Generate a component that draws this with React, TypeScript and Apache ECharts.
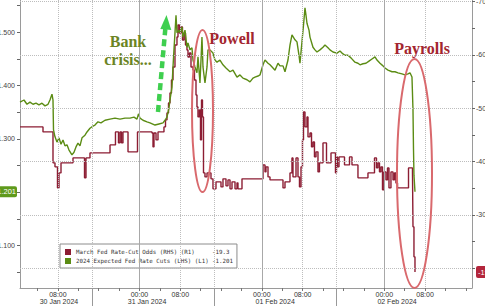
import React, { useEffect, useRef } from "react";
import * as echarts from "echarts";

// x values: hours since 30 Jan 2024 00:00
const greenHours = [0.57,1.35,1.94,2.53,3.12,3.71,4.29,4.88,5.47,6.06,6.45,6.84,7.04,7.14,7.43,7.82,8.22,8.61,9.0,9.39,9.78,10.18,10.76,11.16,11.55,11.94,12.33,12.73,13.31,13.71,14.29,14.88,15.27,15.86,16.45,17.24,18.22,19.2,20.18,21.16,22.14,22.92,23.51,23.8,24.1,24.69,25.47,26.06,27.04,27.82,28.61,29.0,29.39,29.78,29.98,30.37,30.57,30.76,30.96,31.16,31.35,31.75,31.94,32.33,32.53,32.92,33.31,33.51,33.9,34.29,34.49,34.88,35.27,35.47,35.86,36.06,36.25,36.45,36.84,37.24,37.43,37.82,38.41,38.8,39.2,39.78,40.37,40.96,41.75,42.33,43.12,43.71,44.29,45.08,45.67,46.25,46.65,47.24,47.63,48.22,48.61,49.2,49.59,50.18,50.57,51.16,51.55,52.14,52.53,53.12,53.51,53.9,54.49,54.88,55.27,55.47,55.86,56.25,56.45,56.65,56.84,57.24,57.43,58.02,58.41,58.8,59.39,59.98,60.37,60.96,61.35,61.94,62.73,63.31,63.71,64.29,64.88,65.47,66.25,66.84,67.24,67.82,68.41,69.0,69.59,70.18,70.57,71.16,71.75,72.14,72.73,73.51,74.1,74.69,75.47,76.06,76.65,77.04,77.43,77.63,77.73,77.82,78.02];
const greenValues = [-1.369,-1.373,-1.365,-1.369,-1.365,-1.367,-1.364,-1.367,-1.362,-1.365,-1.373,-1.384,-1.373,-1.317,-1.304,-1.294,-1.302,-1.29,-1.298,-1.287,-1.289,-1.279,-1.27,-1.275,-1.285,-1.292,-1.287,-1.302,-1.307,-1.313,-1.32,-1.324,-1.326,-1.332,-1.33,-1.335,-1.337,-1.339,-1.337,-1.339,-1.339,-1.341,-1.337,-1.347,-1.339,-1.335,-1.332,-1.33,-1.326,-1.328,-1.33,-1.335,-1.341,-1.358,-1.373,-1.397,-1.435,-1.467,-1.499,-1.532,-1.499,-1.504,-1.499,-1.51,-1.491,-1.504,-1.472,-1.48,-1.467,-1.471,-1.448,-1.435,-1.424,-1.454,-1.405,-1.448,-1.491,-1.435,-1.405,-1.435,-1.467,-1.467,-1.461,-1.448,-1.444,-1.448,-1.439,-1.433,-1.426,-1.429,-1.416,-1.42,-1.414,-1.411,-1.407,-1.414,-1.416,-1.418,-1.42,-1.439,-1.448,-1.442,-1.439,-1.433,-1.429,-1.442,-1.437,-1.437,-1.426,-1.448,-1.476,-1.495,-1.486,-1.482,-1.457,-1.442,-1.482,-1.523,-1.546,-1.532,-1.517,-1.504,-1.491,-1.472,-1.467,-1.463,-1.467,-1.472,-1.476,-1.471,-1.467,-1.463,-1.461,-1.465,-1.461,-1.457,-1.457,-1.452,-1.444,-1.442,-1.439,-1.441,-1.442,-1.446,-1.45,-1.454,-1.448,-1.442,-1.437,-1.433,-1.429,-1.426,-1.426,-1.424,-1.422,-1.42,-1.422,-1.424,-1.416,-1.354,-1.28,-1.232,-1.201];

const redHours = [0.57,5.08,7.04,7.43,7.92,8.22,8.61,10.96,13.22,13.51,14.29,18.22,19.29,19.88,20.18,20.47,20.76,21.75,23.61,26.45,26.65,26.84,27.24,27.63,28.8,29.1,29.39,29.69,29.98,30.27,30.57,30.96,31.35,31.55,31.84,32.14,32.43,32.73,33.02,33.31,33.51,33.8,34.1,34.49,34.78,35.08,35.27,35.47,35.76,35.96,36.16,36.35,36.55,36.84,37.24,38.02,38.41,39.0,39.98,40.37,40.96,41.35,41.75,42.14,42.73,43.12,43.31,44.1,48.22,48.61,48.8,49.2,49.59,52.14,52.53,53.51,53.9,54.1,54.69,55.08,55.37,55.67,55.96,56.16,56.45,56.84,57.04,57.43,57.73,58.02,58.31,58.61,59.0,59.29,59.98,60.67,61.55,62.43,62.63,62.82,63.12,64.2,65.18,65.67,66.84,68.8,70.08,70.47,70.76,71.06,71.35,71.65,71.94,72.33,72.63,72.92,73.31,73.71,74.0,74.29,74.59,76.75,77.53,77.63,77.82,78.02];
const redValues = [-46.5,-45.56,-39.76,-39.01,-35.07,-37.88,-39.76,-40.69,-36.95,-40.69,-41.63,-43.13,-45.56,-43.5,-45.56,-43.5,-45.56,-41.82,-45.56,-45.37,-42.75,-45.37,-44.06,-45.56,-46.5,-47.81,-49.12,-50.99,-52.86,-55.3,-57.73,-61.85,-63.35,-65.6,-64.1,-65.22,-62.79,-64.1,-61.85,-60.92,-59.61,-60.36,-57.73,-57.17,-55.3,-52.49,-50.24,-48.37,-49.68,-44.06,-51.55,-48.37,-37.88,-37.13,-37.88,-36.76,-34.89,-36.2,-35.26,-36.76,-35.45,-36.57,-34.89,-36.2,-34.89,-36.01,-34.89,-36.76,-39.38,-38.07,-39.01,-37.13,-36.57,-35.07,-36.2,-37.88,-40.69,-37.13,-40.69,-37.13,-35.26,-39.01,-44.06,-49.31,-46.5,-48.37,-44.63,-45.37,-42.75,-43.69,-40.88,-41.82,-38.07,-39.76,-43.5,-39.76,-41.63,-37.88,-40.88,-39.01,-40.88,-39.38,-40.88,-39.38,-36.95,-37.88,-40.69,-38.82,-39.76,-38.07,-39.01,-34.7,-38.07,-36.57,-38.82,-35.07,-38.07,-36.57,-37.88,-35.99,-35.07,-38.82,-37.88,-27.77,-22.15,-19.3];

const redName = "March Fed Rate-Cut Odds (RHS) (R1)";
const greenName = "2024 Expected Fed Rate Cuts (LHS) (L1)";
const redLast = "-19.3";
const greenLast = "-1.201";

const timeLabelHours = [8, 24, 32, 48, 56, 72, 80];
const timeLabels = ["08:00", "00:00", "08:00", "00:00", "08:00", "00:00", "08:00"];
const minorTickHours = [4, 8, 12, 16, 20, 24, 28, 32, 36, 40, 44, 48, 52, 56, 60, 64, 68, 72, 76, 80, 84, 88];
const dateLabelHours = [8.2, 25.5, 50.6, 74.5];
const dateLabels = ["30 Jan 2024", "31 Jan 2024", "01 Feb 2024", "02 Feb 2024"];
const sessionHours = [14.7, 38.6, 62.5];
const midnightHours = [24, 48, 72];
const morningHours = [8, 32, 56, 80];

// -1.200 and -20 sit under the last-value badges, so they are not shown
const leftLabelValues = [-1.5, -1.4, -1.3, -1.1];
const leftTickValues = [-1.55, -1.5, -1.45, -1.4, -1.35, -1.3, -1.25, -1.2, -1.15, -1.1, -1.05];
const rightLabelValues = [-70, -60, -50, -40, -30];
const rightGridValues = [-70, -60, -50, -40, -30, -20];
const rightTickValues = [-70, -65, -60, -55, -50, -45, -40, -35, -30, -25, -20];

const X_MIN = 0.57, X_MAX = 89.2;
const LEFT_MIN = -1.5606, LEFT_MAX = -1.0203;
const RIGHT_MIN = -70.28, RIGHT_MAX = -16.31;

const GREEN = "#5b8c14";
const RED = "#8c1d33";
const AX = "#9a9a9a";
const LABEL_FONT = "Liberation Sans";

export default function App() {
  const ref = useRef<HTMLDivElement>(null);
  useEffect(() => {
    if (!ref.current) return;
    const chart = echarts.init(ref.current, null, { renderer: "svg" });
    const grid = { left: 20, right: 13, top: 0, bottom: 18, containLabel: false, outerBoundsMode: "none" };
    const option: any = {
      animation: false,
      backgroundColor: "#ffffff",
      grid: [grid, { ...grid }],
      legend: {
        left: 60, top: 244, orient: "vertical", data: [redName, greenName],
        icon: "rect", itemWidth: 6, itemHeight: 6, itemGap: 1, itemTextGap: 3,
        padding: [4, 4, 3, 5], backgroundColor: "#ffffff", borderColor: "#8c8c8c", borderWidth: 1,
        selectedMode: false,
        formatter: (name: string) => `{n|${name}}{v|${name === redName ? redLast : greenLast}}`,
        textStyle: {
          fontFamily: "DejaVu Sans Mono", fontSize: 5.8, color: "#333", lineHeight: 8,
          rich: {
            n: { width: 136, fontFamily: "DejaVu Sans Mono", fontSize: 5.8, color: "#333" },
            v: { fontFamily: "DejaVu Sans Mono", fontSize: 5.8, color: "#333" },
          },
        },
      },
      xAxis: [
        {
          type: "value", gridIndex: 0, min: X_MIN, max: X_MAX, position: "bottom",
          axisLine: { show: true, lineStyle: { color: AX, width: 1 } },
          axisTick: { show: true, customValues: minorTickHours, length: 3, lineStyle: { color: "#777" } },
          axisLabel: {
            customValues: timeLabelHours, margin: 3, fontSize: 7, color: "#333", fontFamily: LABEL_FONT,
            formatter: (v: number) => timeLabels[timeLabelHours.indexOf(v)] ?? "",
          },
          splitLine: { show: false },
        },
        {
          type: "value", gridIndex: 1, min: X_MIN, max: X_MAX, position: "bottom",
          axisLine: { show: false },
          axisTick: { show: true, customValues: sessionHours, length: 18, lineStyle: { color: "#999" } },
          axisLabel: {
            customValues: dateLabelHours, margin: 10, fontSize: 7, color: "#333", fontFamily: LABEL_FONT,
            formatter: (v: number) => dateLabels[dateLabelHours.indexOf(v)] ?? "",
          },
          splitLine: { show: false },
        },
      ],
      yAxis: [
        {
          type: "value", gridIndex: 0, position: "left", inverse: true, min: LEFT_MIN, max: LEFT_MAX,
          axisLine: { show: true, lineStyle: { color: AX } },
          axisTick: { show: true, customValues: leftTickValues, length: 3, lineStyle: { color: "#666" } },
          axisLabel: {
            customValues: leftLabelValues, margin: 5, fontSize: 7, color: "#444", fontFamily: LABEL_FONT,
            formatter: (v: number) => v.toFixed(3),
          },
          splitLine: { show: false },
          name: "High = LOW", nameLocation: "middle", nameGap: 15,
          nameTextStyle: { color: "#c6c6c6", fontSize: 11, fontFamily: LABEL_FONT },
        },
        {
          type: "value", gridIndex: 0, position: "right", inverse: true, min: RIGHT_MIN, max: RIGHT_MAX,
          axisLine: { show: true, lineStyle: { color: AX } },
          axisTick: { show: true, customValues: rightTickValues, length: 3, lineStyle: { color: "#666" } },
          axisLabel: {
            customValues: rightLabelValues, margin: 4, fontSize: 7, color: "#444", fontFamily: LABEL_FONT,
            formatter: (v: number) => String(v),
          },
          splitLine: { show: false },
          name: "LOW = High", nameLocation: "middle", nameGap: 10,
          nameTextStyle: { color: "#c6c6c6", fontSize: 11, fontFamily: LABEL_FONT },
        },
        { type: "value", gridIndex: 1, show: false, min: 0, max: 1 },
      ],
      series: [
        {
          name: "grid", type: "line", xAxisIndex: 0, yAxisIndex: 1, data: [], z: 1, silent: true,
          markLine: {
            silent: true, symbol: ["none", "none"], label: { show: false },
            lineStyle: { color: "#bdbdbd", type: "dotted", width: 1 },
            data: [
              ...rightGridValues.map((v) => ({ yAxis: v })),
              ...morningHours.map((h) => ({ xAxis: h })),
              ...sessionHours.map((h) => ({ xAxis: h })),
              ...midnightHours.map((h) => ({ xAxis: h, lineStyle: { color: "#a8a8a8", type: "solid", width: 1 } })),
            ],
          },
        },
        {
          name: redName, type: "line", xAxisIndex: 0, yAxisIndex: 1, step: "end", color: RED,
          showSymbol: false, z: 3,
          lineStyle: { color: RED, width: 1.4 },
          data: redHours.map((h, i) => [h, redValues[i]]),
        },
        {
          name: greenName, type: "line", xAxisIndex: 0, yAxisIndex: 0, color: GREEN,
          showSymbol: false, z: 4,
          lineStyle: { color: GREEN, width: 1.4 },
          data: greenHours.map((h, i) => [h, greenValues[i]]),
        },
      ],
    };
    chart.setOption(option);

    const gy = chart.convertToPixel({ yAxisIndex: 0 }, greenValues[greenValues.length - 1]) as number;
    const ry = chart.convertToPixel({ yAxisIndex: 1 }, redValues[redValues.length - 1]) as number;
    const serif = "Liberation Serif";
    chart.setOption({
      graphic: [
        { type: "ellipse", z: 10, shape: { cx: 202.5, cy: 111, rx: 10.5, ry: 81 }, style: { fill: "none", stroke: "#d9696d", lineWidth: 2 } },
        { type: "ellipse", z: 10, shape: { cx: 414.5, cy: 173.5, rx: 17.5, ry: 114.5 }, style: { fill: "none", stroke: "#d9696d", lineWidth: 2 } },
        { type: "line", z: 10, shape: { x1: 158, y1: 112, x2: 165.3, y2: 29 }, style: { stroke: "#3fcf4f", lineWidth: 4.5, lineDash: [7, 4] } },
        { type: "polygon", z: 10, shape: { points: [[166.5, 15], [160.3, 29], [171.3, 30]] }, style: { fill: "#3fcf4f" } },
        { type: "text", z: 10, x: 128, y: 50, style: { text: "Bank\ncrisis...", fill: "#6b8424", fontFamily: serif, fontSize: 16, fontWeight: "bold", lineHeight: 18, align: "center", verticalAlign: "middle" } },
        { type: "text", z: 10, x: 232, y: 38, style: { text: "Powell", fill: "#a3262f", fontFamily: serif, fontSize: 16, fontWeight: "bold", align: "center", verticalAlign: "middle" } },
        { type: "text", z: 10, x: 422, y: 48, style: { text: "Payrolls", fill: "#a3262f", fontFamily: serif, fontSize: 16, fontWeight: "bold", align: "center", verticalAlign: "middle" } },
        { type: "rect", z: 20, shape: { x: -8, y: gy - 5.5, width: 25, height: 11, r: 2 }, style: { fill: "#5f9a1c" } },
        { type: "text", z: 21, x: 16, y: gy, style: { text: greenLast, fill: "#ffffff", fontFamily: LABEL_FONT, fontSize: 7.5, align: "right", verticalAlign: "middle" } },
        { type: "rect", z: 20, shape: { x: 476, y: ry - 6, width: 30, height: 12, r: 2 }, style: { fill: "#b3263c" } },
        { type: "text", z: 21, x: 478, y: ry, style: { text: redLast, fill: "#ffffff", fontFamily: LABEL_FONT, fontSize: 7.5, align: "left", verticalAlign: "middle" } },
      ],
    });
    return () => chart.dispose();
  }, []);
  return <div ref={ref} style={{ position: "fixed", left: 0, top: 0, width: 485, height: 306, background: "#fff" }} />;
}
